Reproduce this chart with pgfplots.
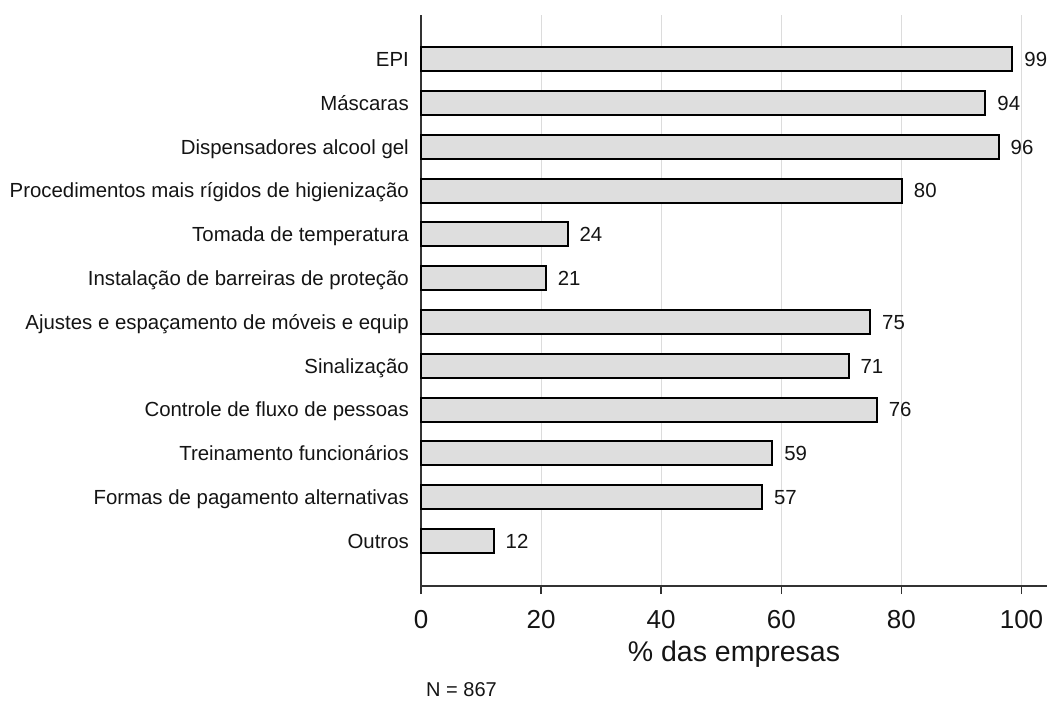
\documentclass[border=0pt]{standalone}
\usepackage{fontspec}
\setmainfont{Liberation Sans}
\usepackage{pgfplots}
\usepackage{pgfplotstable}
\pgfplotsset{compat=1.18}
\definecolor{barfill}{RGB}{222,222,222}
\definecolor{gridgray}{RGB}{220,220,220}
\definecolor{spine}{RGB}{50,50,50}
\definecolor{txt}{RGB}{20,20,20}

\pgfplotstableread{
y x lab
11 98.5 99
10 94.0 94
9 96.2 96
8 80.1 80
7 24.4 24
6 20.8 21
5 74.8 75
4 71.2 71
3 75.9 76
2 58.5 59
1 56.8 57
0 12.1 12
}\data

\begin{document}
\begin{tikzpicture}
\begin{axis}[
  at={(421pt,-586pt)}, anchor=south west,
  width=626pt, height=571pt, scale only axis,
  xmin=0, xmax=104.25,
  ymin=-1.03, ymax=12.01,
  axis x line*=bottom, axis y line*=left,
  axis line style={color=spine, line width=1.5pt},
  xtick={0,20,40,60,80,100},
  xmajorgrids,
  major grid style={color=gridgray, line width=1pt},
  xtick align=outside,
  major tick length=8pt,
  xtick style={color=spine, line width=1.5pt},
  ytick={0,...,11},
  ytick style={draw=none},
  yticklabels={Outros,Formas de pagamento alternativas,Treinamento funcionários,Controle de fluxo de pessoas,Sinalização,Ajustes e espaçamento de móveis e equip,Instalação de barreiras de proteção,Tomada de temperatura,Procedimentos mais rígidos de higienização,Dispensadores alcool gel,Máscaras,EPI},
  yticklabel style={font=\fontsize{20.4}{24}\selectfont, color=txt, inner sep=0pt, anchor=base east, xshift=-12pt, yshift=-7.3pt},
  /pgf/number format/assume math mode=true,
  xticklabel style={font=\fontsize{26}{30}\selectfont, color=txt, inner sep=0pt, anchor=north, yshift=-16pt},
  xlabel={\% das empresas},
  xlabel style={at={(axis description cs:0.5,0)}, anchor=base, yshift=-75.7pt, font=\fontsize{28.5}{33}\selectfont, color=txt, inner sep=0pt},
  clip=false,
]
\addplot[xbar, bar width=24pt, fill=barfill, draw=black, line width=2pt,
  nodes near coords, point meta=explicit symbolic,
  every node near coord/.style={anchor=base west, inner sep=0pt, xshift=11pt, yshift=-7.3pt, font=\fontsize{20.4}{24}\selectfont, color=txt}]
  table[x=x, y=y, meta=lab]{\data};
\end{axis}
\node[anchor=west, inner sep=0pt, font=\fontsize{20}{24}\selectfont, color=txt] at (426pt,-690pt) {N = 867};
\pgfresetboundingbox
\path[use as bounding box] (0pt,0pt) rectangle (1047pt,-705pt);
\end{tikzpicture}
\end{document}
